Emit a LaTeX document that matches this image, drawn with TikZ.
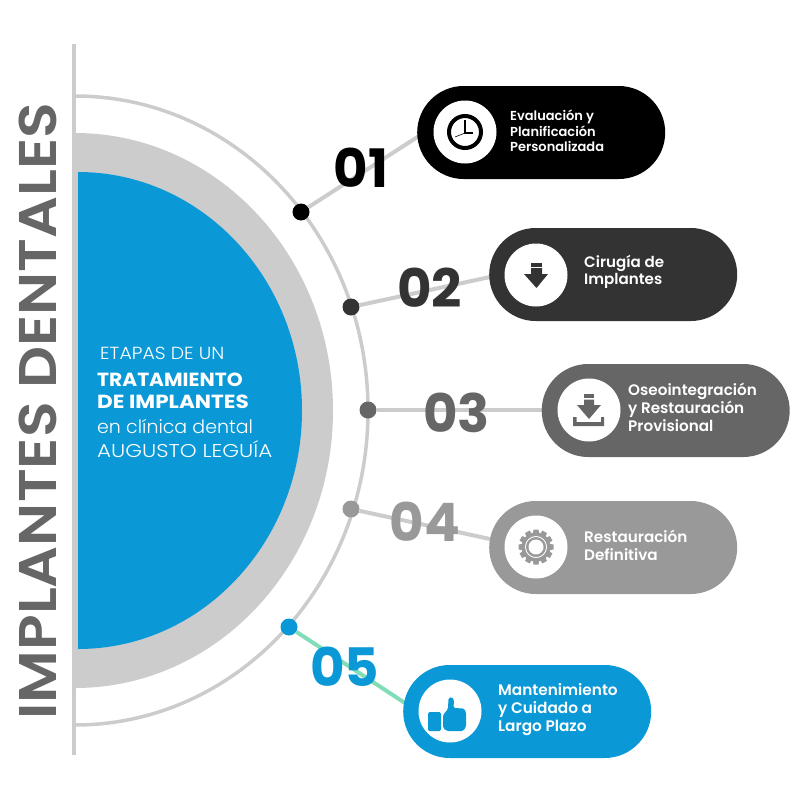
\documentclass[tikz,border=0pt]{standalone}
\usepackage{fontspec}
\setmainfont{Poppins}
\newfontfamily\fsemi{Poppins SemiBold}
\newfontfamily\fmed{Poppins Medium}
\newfontfamily\flight{Poppins Light}
\usetikzlibrary{shapes.misc}
\definecolor{cblack}{HTML}{000000}
\definecolor{ctwo}{HTML}{333333}
\definecolor{cthree}{HTML}{666666}
\definecolor{cfour}{HTML}{999999}
\definecolor{cblue}{HTML}{0A99D6}
\definecolor{cgray}{HTML}{CCCCCC}
\definecolor{cgreen}{HTML}{80DDB8}
\definecolor{ctitle}{HTML}{666666}
\newcommand{\sx}[2]{\scalebox{#1}[1]{#2}}
\tikzset{
 pill/.style={rounded rectangle,fill=#1,minimum width=248pt,minimum height=93pt,inner sep=0pt,draw=none,anchor=west},
 dot/.style={circle,fill=#1,minimum size=17pt,inner sep=0pt},
 conn/.style={line width=4pt,draw=#1},
 icondisc/.style={circle,fill=white,minimum size=63pt,inner sep=0pt},
 num/.style={font=\fontsize{53}{53}\selectfont\bfseries,text=#1,inner sep=0pt},
 pilltext/.style={text=white,align=left,anchor=west,inner sep=0pt},
 centretext/.style={text=white,anchor=west,inner sep=0pt}
}
\begin{document}
\begin{tikzpicture}[x=1pt,y=-1pt]
\useasboundingbox (0,0) rectangle (800,800);
% half discs
\draw[cgray,line width=3.5pt] (75,96) arc[start angle=90,end angle=-90,x radius=293pt,y radius=314.5pt];
\fill[cgray] (75,133) arc[start angle=90,end angle=-90,x radius=258pt,y radius=277.5pt] -- cycle;
\fill[cblue] (78,172) arc[start angle=90,end angle=-90,x radius=224pt,y radius=238.5pt] -- cycle;
\draw[cgray,line width=4.5pt] (74,44) -- (74,755);
% dots
\node[dot=cblack] (d1) at (301,212) {};
\node[dot=ctwo] (d2) at (351,307) {};
\node[dot=cthree] (d3) at (368,410) {};
\node[dot=cfour] (d4) at (351,509) {};
\node[dot=cblue] (d5) at (289,627) {};
% connector ends
\coordinate (e1) at (419,136);
\coordinate (e2) at (490,277);
\coordinate (e3) at (542,410);
\coordinate (e4) at (490,539);
\coordinate (e5) at (405,703);
% connectors
\draw[conn=cgray] (d1) -- (e1);
\draw[conn=cgray] (d2) -- (e2);
\draw[conn=cgray] (d3) -- (e3);
\draw[conn=cgray] (d4) -- (e4);
\draw[conn=cgreen] (d5) -- (e5);
% pills
\node[pill=cblack] (p1) at (417,132.5) {};
\node[pill=ctwo] (p2) at (489,274.5) {};
\node[pill=cthree] (p3) at (541.5,410.5) {};
\node[pill=cfour] (p4) at (489,547.5) {};
\node[pill=cblue] (p5) at (403,711.5) {};
% numbers
\node[num=cblack] (n1) at (361,168) {01};
\node[num=ctwo] (n2) at (429.5,288) {02};
\node[num=cthree] (n3) at (456.5,413) {03};
\node[num=cfour] (n4) at (425,522) {04};
\node[num=cblue] (n5) at (344.5,667) {05};
% icon discs
\node[icondisc] (i1) at (465,132) {};
\node[icondisc] (i2) at (536,275) {};
\node[icondisc] (i3) at (589,410) {};
\node[icondisc] (i4) at (536,547) {};
\node[icondisc] (i5) at (450,711) {};
% clock
\draw[black,line width=4pt] (465,132) circle[radius=16pt];
\draw[black,line width=1.6pt] (465,120) -- (465,133) -- (473,133);
\draw[black,line width=.6pt] (465,133) -- (455,137);
% arrow
\fill[ctwo] (531,263) rectangle (542,266.5);
\fill[ctwo] (531,268) -- (542,268) -- (542,274) -- (548,274) -- (536.5,288) -- (524,274) -- (531,274) -- cycle;
% download
\fill[cthree] (584,394) rectangle (594,398);
\fill[cthree] (584,399.5) -- (594,399.5) -- (594,405) -- (601,405) -- (589,419) -- (577,405) -- (584,405) -- cycle;
\fill[cthree] (573,417) -- (576.5,417) -- (576.5,422) -- (601,422) -- (601,417) -- (604,417) -- (604,426) -- (573,426) -- cycle;
% gear
\foreach \a in {0,30,...,330}{
  \fill[cfour,shift={(536,547)},rotate=\a] (-3,-13) -- (-2.6,-17.5) -- (2.6,-17.5) -- (3,-13) -- cycle;
}
\fill[cfour] (536,547) circle[radius=14.5pt];
\fill[white] (536,547) circle[radius=11pt];
\fill[cfour] (536,547) circle[radius=10pt];
\fill[white] (536,547) circle[radius=7.5pt];
% thumb
\fill[cblue,rounded corners=1.5pt] (428,712) rectangle (441,731);
\fill[cblue,rounded corners=1.5pt] (443,715) -- (448,709) -- (448.5,698) -- (452,697) -- (454,700) -- (453.5,708) -- (464,708.5) -- (466,712) -- (466,727) -- (463,731) -- (447,731) -- (443,728) -- cycle;
% pill texts
\node[pilltext,font=\fontsize{13}{15.5}\selectfont\fsemi] (t1) at (510,131) {Evaluación y\\Planificación\\Personalizada};
\node[pilltext,font=\fontsize{15.1}{17.5}\selectfont\fsemi] (t2) at (584,272) {Cirugía de\\Implantes};
\node[pilltext,font=\fontsize{15.2}{17.7}\selectfont\fsemi] (t3) at (628,407.5) {Oseointegración\\y Restauración\\Provisional};
\node[pilltext,font=\fontsize{15.2}{17.5}\selectfont\fsemi] (t4) at (584,545.5) {Restauración\\Definitiva};
\node[pilltext,font=\fontsize{15.3}{18}\selectfont\fsemi] (t5) at (498,710) {Mantenimiento\\y Cuidado a\\Largo Plazo};
% centre text
\node[centretext,font=\fontsize{17.5}{20}\selectfont\flight] (c1) at (100,353) {\sx{1.08}{ETAPAS DE UN}};
\node[centretext,font=\fontsize{19}{20}\selectfont\bfseries] (c2) at (97,380) {\sx{1.065}{TRATAMIENTO}};
\node[centretext,font=\fontsize{19}{20}\selectfont\bfseries] (c3) at (97,402) {\sx{1.135}{DE IMPLANTES}};
\node[centretext,font=\fontsize{18.5}{20}\selectfont\flight] (c4) at (97,426) {\sx{1.025}{en clínica dental}};
\node[centretext,font=\fontsize{18.5}{20}\selectfont\flight] (c5) at (97,449) {\sx{1.16}{AUGUSTO LEGUÍA}};
% title
\node[text=ctitle,rotate=90,inner sep=0pt,font=\fontsize{53}{53}\selectfont\fsemi] (title) at (38,411) {\sx{1.106}{IMPLANTES DENTALES}};
\end{tikzpicture}
\end{document}
